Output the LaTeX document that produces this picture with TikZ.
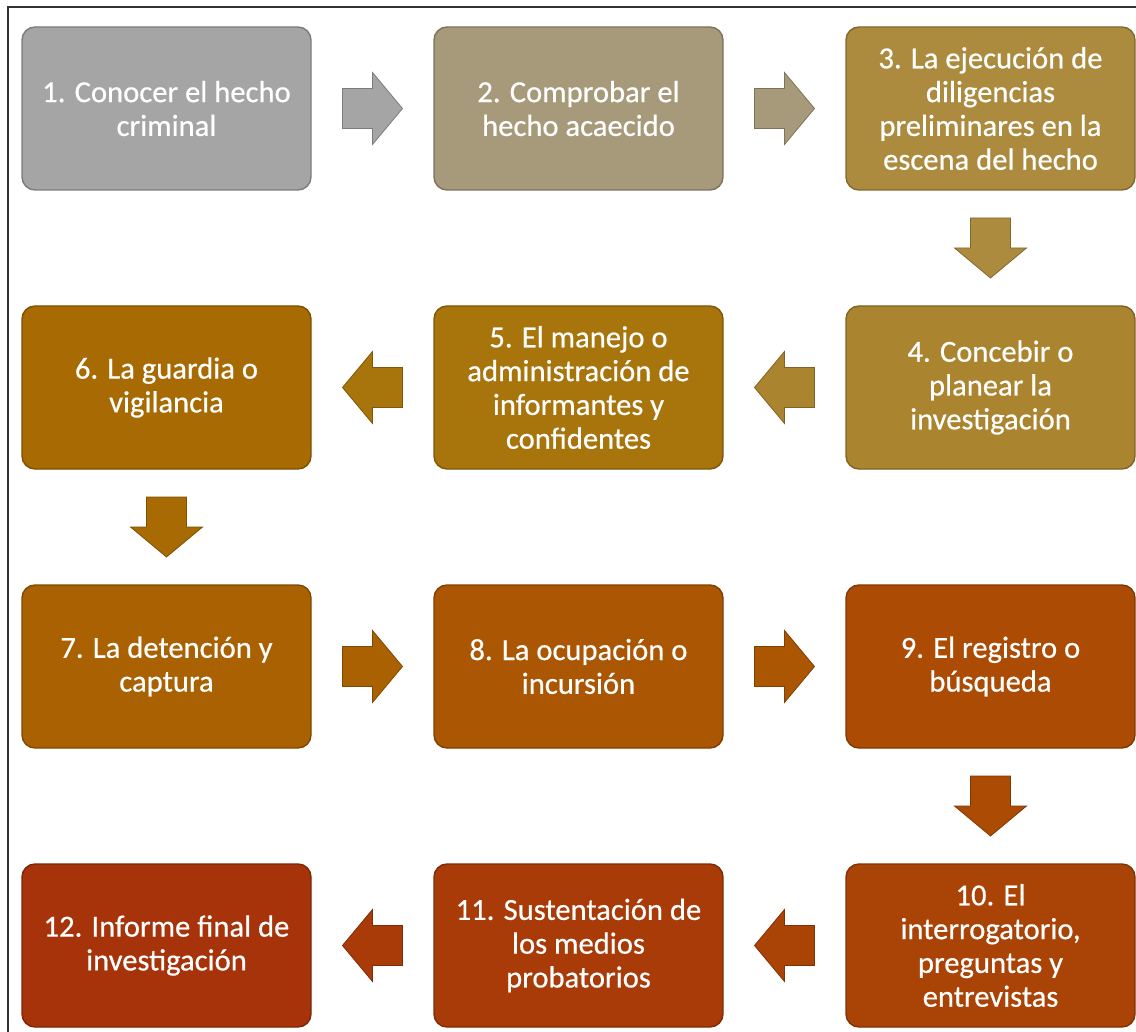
\documentclass[tikz,border=0pt]{standalone}
\usepackage{fontspec}
\setmainfont{Carlito}
\newfontfamily\boxfont{Carlito}[FakeBold=0.5]
\usepackage{tikz}
\usetikzlibrary{positioning}
\usetikzlibrary{calc}
\definecolor{stepA}{HTML}{A5A5A5}
\definecolor{stepB}{HTML}{A69A7A}
\definecolor{stepC}{HTML}{AC8B3E}
\definecolor{stepD}{HTML}{AB8430}
\definecolor{stepE}{HTML}{A8740C}
\definecolor{stepF}{HTML}{A86A02}
\definecolor{stepG}{HTML}{AA6102}
\definecolor{stepH}{HTML}{AB5602}
\definecolor{stepI}{HTML}{AB4B04}
\definecolor{stepJ}{HTML}{AA4306}
\definecolor{stepK}{HTML}{A93B08}
\definecolor{stepL}{HTML}{A6330A}
\tikzstyle{box} = [draw, rectangle, rounded corners=6.5pt, minimum height=81.5pt, minimum width=144.5pt, line width=0.7pt, text=white, align=center, font=\boxfont\fontsize{15.3}{16.9}\selectfont]
\tikzstyle{frame} = [line width=1pt, black!80]
\tikzset{pics/barrow/.style={code={\path[pic actions] (-30,-20) -- (0,-20) -- (0,-36) -- (30,0) -- (0,36) -- (0,20) -- (-30,20) -- cycle;}}}

\begin{document}
\begin{tikzpicture}[x=0.5pt,y=-0.5pt,node distance=206pt]
    \useasboundingbox (0,0) rectangle (1136,1032);
    \draw [frame] (1136,7) -- (8,7) -- (8,1032);

    % row 1
    \node [box, fill=stepA, draw=stepA!75!black] (c1) at (166.5,108.5) {1. Conocer el hecho\\criminal};
    \node [box, fill=stepB, draw=stepB!75!black, right of=c1] (c2) {2. Comprobar el\\hecho acaecido};
    \node [box, fill=stepC, draw=stepC!75!black, right of=c2] (c3) {3. La ejecución de\\diligencias\\preliminares en la\\escena del hecho};
    % row 2
    \node [box, fill=stepD, draw=stepD!75!black, node distance=139.5pt, below of=c3] (c4) {4. Concebir o\\planear la\\investigación};
    \node [box, fill=stepE, draw=stepE!75!black, left of=c4] (c5) {5. El manejo o\\administración de\\informantes y\\confidentes};
    \node [box, fill=stepF, draw=stepF!75!black, left of=c5] (c6) {6. La guardia o\\vigilancia};
    % row 3
    \node [box, fill=stepG, draw=stepG!75!black, node distance=139.5pt, below of=c6] (c7) {7. La detención y\\captura};
    \node [box, fill=stepH, draw=stepH!75!black, right of=c7] (c8) {8. La ocupación o\\incursión};
    \node [box, fill=stepI, draw=stepI!75!black, right of=c8] (c9) {9. El registro o\\búsqueda};
    % row 4
    \node [box, fill=stepJ, draw=stepJ!75!black, node distance=139.5pt, below of=c9] (c10) {10. El\\interrogatorio,\\preguntas y\\entrevistas};
    \node [box, fill=stepK, draw=stepK!75!black, left of=c10] (c11) {11. Sustentación de\\los medios\\probatorios};
    \node [box, fill=stepL, draw=stepL!75!black, left of=c11] (c12) {12. Informe final de\\investigación};

    % arrows
    \pic [fill=stepA, draw=stepA!75!black] at ($(c1.east)!0.5!(c2.west)$) {barrow};
    \pic [fill=stepB, draw=stepB!75!black] at ($(c2.east)!0.5!(c3.west)$) {barrow};
    \pic [fill=stepC, draw=stepC!75!black, rotate=-90] at ($(c3.south)!0.5!(c4.north)$) {barrow};
    \pic [fill=stepD, draw=stepD!75!black, rotate=180] at ($(c4.west)!0.5!(c5.east)$) {barrow};
    \pic [fill=stepE, draw=stepE!75!black, rotate=180] at ($(c5.west)!0.5!(c6.east)$) {barrow};
    \pic [fill=stepF, draw=stepF!75!black, rotate=-90] at ($(c6.south)!0.5!(c7.north)$) {barrow};
    \pic [fill=stepG, draw=stepG!75!black] at ($(c7.east)!0.5!(c8.west)$) {barrow};
    \pic [fill=stepH, draw=stepH!75!black] at ($(c8.east)!0.5!(c9.west)$) {barrow};
    \pic [fill=stepI, draw=stepI!75!black, rotate=-90] at ($(c9.south)!0.5!(c10.north)$) {barrow};
    \pic [fill=stepJ, draw=stepJ!75!black, rotate=180] at ($(c10.west)!0.5!(c11.east)$) {barrow};
    \pic [fill=stepK, draw=stepK!75!black, rotate=180] at ($(c11.west)!0.5!(c12.east)$) {barrow};
\end{tikzpicture}
\end{document}
